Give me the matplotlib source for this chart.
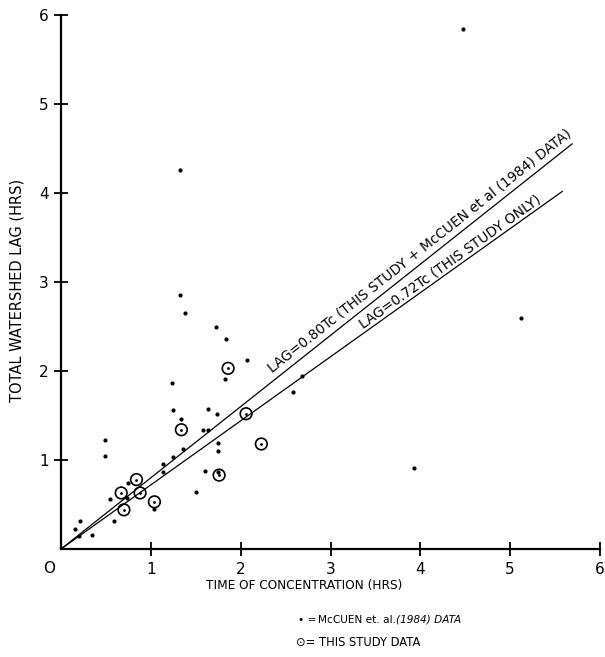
import numpy as np
import matplotlib

matplotlib.use("Agg")
import matplotlib.pyplot as plt

# McCuen et al. (1984) data: time of concentration vs total watershed lag (hrs)
mccuen_tc = [1.38, 1.73, 1.84, 2.07, 1.83, 1.24, 2.58, 1.25, 1.34, 1.64,
             1.74, 1.58, 1.64, 1.75, 1.75, 0.49, 0.49, 1.36, 1.25, 1.13,
             1.14, 1.60, 1.50, 0.75, 0.54, 0.74, 0.59, 1.04, 0.21, 0.16,
             0.20, 0.35, 1.75, 1.33, 1.33, 4.48, 5.12, 3.93, 2.68]
mccuen_lag = [2.65, 2.49, 2.36, 2.12, 1.91, 1.86, 1.76, 1.56, 1.46, 1.57,
              1.52, 1.34, 1.34, 1.19, 1.10, 1.23, 1.04, 1.12, 1.03, 0.95,
              0.86, 0.88, 0.64, 0.74, 0.56, 0.57, 0.32, 0.45, 0.31, 0.22,
              0.15, 0.16, 0.87, 4.26, 2.85, 5.84, 2.59, 0.91, 1.94]

# this study data
study_tc = [1.86, 1.34, 2.06, 2.23, 1.76, 0.84, 0.67, 0.88, 0.70, 1.04]
study_lag = [2.03, 1.34, 1.52, 1.18, 0.83, 0.78, 0.63, 0.63, 0.44, 0.53]

# fitted lines LAG = k * Tc
fit_coef = [0.80, 0.72]
fit_end_tc = [5.69, 5.58]
fit_labels = ["LAG=0.80Tc (THIS STUDY + McCUEN et al (1984) DATA)",
              "LAG=0.72Tc (THIS STUDY ONLY)"]
label_start_tc = [2.40, 3.39]
label_gap_px = [7, 4]

ticks = [1, 2, 3, 4, 5, 6]

W, H = 605, 657
fig = plt.figure(figsize=(W / 100, H / 100), dpi=100)
ax = fig.add_axes([61 / W, 1 - 549 / H, 539 / W, 534 / H])
ax.set_xlim(0, 6)
ax.set_ylim(0, 6)

for side in ["top", "right"]:
    ax.spines[side].set_visible(False)
for side in ["left", "bottom"]:
    ax.spines[side].set_linewidth(1.6)
    ax.spines[side].set_color("black")

ax.set_xticks(ticks)
ax.set_yticks(ticks)
ax.set_xticklabels([str(t) for t in ticks])
ax.set_yticklabels([str(t) for t in ticks])
ax.tick_params(direction="inout", length=10, width=1.3, labelsize=11,
               colors="black", pad=4)
ax.text(-0.13, -0.22, "O", fontsize=11, ha="center", va="center",
        clip_on=False)

# fitted lines and their labels
for k, xe, lab, xs, gap in zip(fit_coef, fit_end_tc, fit_labels,
                               label_start_tc, label_gap_px):
    xx = np.array([0, xe])
    ax.plot(xx, k * xx, color="black", lw=0.9, zorder=2)
    ang = ax.transData.transform_angles(np.array([np.degrees(np.arctan(k))]),
                                        np.array([[xs, k * xs]]))[0]
    r = np.radians(ang)
    ax.annotate(lab, xy=(xs, k * xs),
                xytext=(-gap * np.sin(r), gap * np.cos(r)),
                textcoords="offset pixels",
                rotation=ang, rotation_mode="anchor", ha="left",
                va="baseline", fontsize=9.9)

ax.scatter(mccuen_tc, mccuen_lag, s=9, color="black", zorder=3, linewidths=0)
ax.scatter(study_tc, study_lag, s=70, facecolors="none", edgecolors="black",
           linewidths=1.2, zorder=3)
ax.scatter(study_tc, study_lag, s=4, color="black", zorder=3, linewidths=0)

fig.text(304 / W, 1 - 586 / H, "TIME OF CONCENTRATION (HRS)", ha="center",
         va="center", fontsize=8.7)
fig.text(17 / W, 1 - 290 / H, "TOTAL WATERSHED LAG (HRS)", ha="center",
         va="center", rotation=90, fontsize=10.5)

# legend written as text, as in the original figure
fig.text(298 / W, 1 - 620 / H, "• =", ha="left", va="center", fontsize=7.6)
fig.text(318 / W, 1 - 620 / H, "McCUEN et. al.", ha="left", va="center",
         fontsize=7.6)
fig.text(396 / W, 1 - 620 / H, "(1984) DATA", ha="left", va="center",
         fontsize=7.6, style="italic")
fig.text(296 / W, 1 - 643 / H, "⊙= THIS STUDY DATA", ha="left", va="center",
         fontsize=8.3)

fig.savefig("out.png", dpi=100)
